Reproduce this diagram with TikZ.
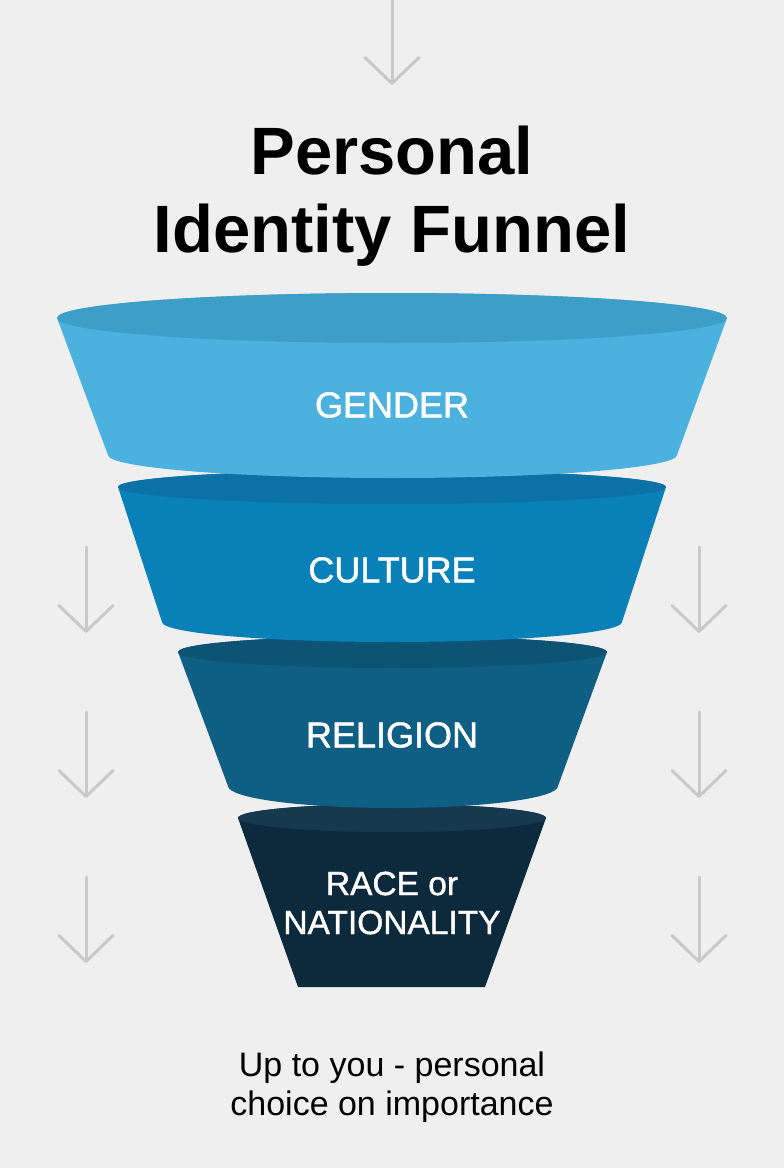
\documentclass[tikz,border=0pt]{standalone}
\usepackage{fontspec}
\setmainfont{Liberation Sans}
\newfontfamily\labelfont[FakeBold=1.2]{Liberation Sans}
\usetikzlibrary{arrows.meta}
\definecolor{bggray}{HTML}{EFEFEF}
\definecolor{arrowgray}{HTML}{C9C9C9}
\definecolor{genderbody}{HTML}{4BB1DF}
\definecolor{gendertop}{HTML}{3D9EC8}
\definecolor{culturebody}{HTML}{0A80B9}
\definecolor{culturetop}{HTML}{0C72A5}
\definecolor{religionbody}{HTML}{0F5E84}
\definecolor{religiontop}{HTML}{0D5474}
\definecolor{racebody}{HTML}{0C2A3C}
\definecolor{racetop}{HTML}{17394D}

\begin{document}
\begin{tikzpicture}[x=1pt, y=-1pt,
  downarrow/.style={draw=arrowgray, line width=3pt, line cap=round, -{Straight Barb[length=26pt, width=54pt, round]}},
  seglabel/.style={text=white, align=center, font=\labelfont\fontsize{36}{39}\selectfont}]
\fill[bggray] (0,0) rectangle (784,1168);
\useasboundingbox (0,0) rectangle (784,1168);

% arrows in the margins
\coordinate (T1) at (392,0);
\coordinate (T2) at (392,85);
\draw[downarrow] (T1) -- (T2);
\foreach \ya/\yb [count=\i] in {547/633, 712/798, 877/963}{
  \coordinate (L\i a) at (86,\ya);
  \coordinate (L\i b) at (86,\yb);
  \coordinate (R\i a) at (699,\ya);
  \coordinate (R\i b) at (699,\yb);
  \draw[downarrow] (L\i a) -- (L\i b);
  \draw[downarrow] (R\i a) -- (R\i b);
}

% title
\node[font=\fontsize{67}{78}\selectfont\bfseries, align=center] (title) at (392,196) {Personal\\Identity Funnel};

% funnel, bottom layer first
\fill[racebody] (238,818) -- (298,987) -- (485,987) -- (546,818) arc[start angle=0, end angle=-180, x radius=154, y radius=14] -- cycle;
\fill[racetop] (392,818) ellipse[x radius=154, y radius=14];

\fill[religionbody] (178,652) -- (228,786) arc[start angle=180, end angle=0, x radius=165, y radius=22] -- (607,652) arc[start angle=0, end angle=-180, x radius=214.5, y radius=16] -- cycle;
\fill[religiontop] (392.5,652) ellipse[x radius=214.5, y radius=16];

\fill[culturebody] (118,487) -- (162,622) arc[start angle=180, end angle=0, x radius=230, y radius=20] -- (666,487) arc[start angle=0, end angle=-180, x radius=274, y radius=17] -- cycle;
\fill[culturetop] (392,487) ellipse[x radius=274, y radius=17];

\fill[genderbody] (57,318) -- (108,455) arc[start angle=180, end angle=0, x radius=284.5, y radius=23] -- (727,318) arc[start angle=0, end angle=-180, x radius=335, y radius=25] -- cycle;
\fill[gendertop] (392,318) ellipse[x radius=335, y radius=25];

% labels
\node[seglabel] (gender) at (392,405) {GENDER};
\node[seglabel] (culture) at (392,570) {CULTURE};
\node[seglabel] (religion) at (392,735) {RELIGION};
\node[seglabel, font=\labelfont\fontsize{33.5}{39}\selectfont] (race) at (392,903) {RACE or\\NATIONALITY};

% note below
\node[font=\fontsize{34}{39}\selectfont, align=center] (note) at (392,1087) {Up to you - personal\\choice on importance};
\end{tikzpicture}
\end{document}
